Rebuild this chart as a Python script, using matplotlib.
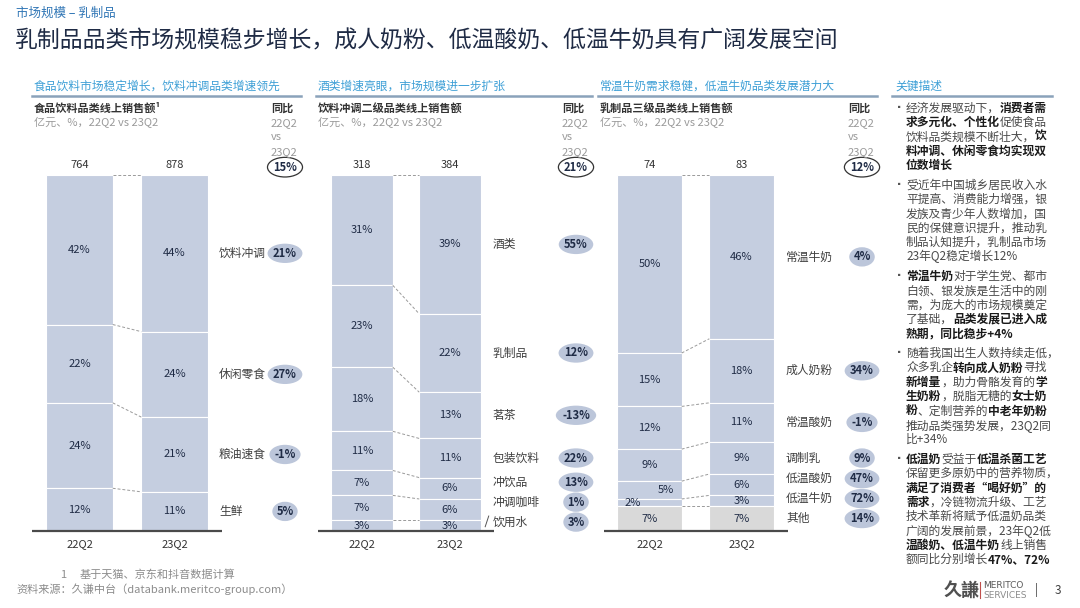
import matplotlib
matplotlib.use('Agg')
import matplotlib.pyplot as plt
from matplotlib.font_manager import FontProperties
import numpy as np

plt.rcParams['font.family'] = ['Noto Sans CJK SC', 'DejaVu Sans']

# ---- data ----
periods = ['22Q2', '23Q2']

food_cats = ['饮料冲调', '休闲零食', '粮油速食', '生鲜']
food_22 = [42, 22, 24, 12]
food_23 = [44, 24, 21, 11]
food_yoy = ['21%', '27%', '-1%', '5%']
food_total = [764, 878]
food_growth = '15%'

bev_cats = ['酒类', '乳制品', '茗茶', '包装饮料', '冲饮品', '冲调咖啡', '饮用水']
bev_22 = [31, 23, 18, 11, 7, 7, 3]
bev_23 = [39, 22, 13, 11, 6, 6, 3]
bev_yoy = ['55%', '12%', '-13%', '22%', '13%', '1%', '3%']
bev_total = [318, 384]
bev_growth = '21%'

dairy_cats = ['常温牛奶', '成人奶粉', '常温酸奶', '调制乳', '低温酸奶', '低温牛奶', '其他']
dairy_22 = [50, 15, 12, 9, 5, 2, 7]
dairy_23 = [46, 18, 11, 9, 6, 3, 7]
dairy_yoy = ['4%', '34%', '-1%', '9%', '47%', '72%', '14%']
dairy_total = [74, 83]
dairy_growth = '12%'

# ---- styling ----
BAR = '#c5cee0'
OTHER = '#d9d9d9'
PILL = '#bcc6da'
NAVY = '#1f2b45'
DARK = '#333333'
GREY = '#9a9a9a'
HEAD = '#3d9fd6'
RULE = '#8aa2ba'

W, H = 1080, 608
fig = plt.figure(figsize=(W / 100, H / 100), dpi=100)
renderer = fig.canvas.get_renderer()


def fx(x):
    return x / W


def fy(y):
    return 1 - y / H


def ftext(x, y, s, **kw):
    kw.setdefault('va', 'center')
    return fig.text(fx(x), fy(y), s, **kw)


def hline(x0, x1, y, **kw):
    fig.add_artist(plt.Line2D([fx(x0), fx(x1)], [fy(y), fy(y)], **kw))


def panel(c0, sp, cats, v22, v23, yoy, totals, growth, lab_px, pill_px,
          colors, offsets=None, leader=None):
    offsets = offsets or {}
    top, base = 175, 531
    ax = fig.add_axes([fx(c0 - sp / 2), fy(base), 2 * sp / W, (base - top) / H])
    ax.set_xlim(-0.5, 1.5)
    ax.set_ylim(0, 100)
    ax.axis('off')
    bw = 0.7
    lab_x = (lab_px - c0) / sp
    pill_x = (pill_px - c0) / sp
    tops_all = []
    for i, vals in enumerate([v22, v23]):
        vals = np.array(vals)
        tops = 100 - np.concatenate([[0], np.cumsum(vals)[:-1]])
        bottoms = tops - vals
        tops_all.append(tops)
        ax.bar(i, vals, bottom=bottoms, width=bw, color=colors,
               edgecolor='white', linewidth=0.8)
        for j, (v, b) in enumerate(zip(vals, bottoms)):
            dx = offsets.get((i, j), 0)
            ax.text(i + dx, b + v / 2, f'{v}%', ha='center', va='center',
                    fontsize=8, color=NAVY)
        ax.text(i, 102.8, str(totals[i]), ha='center', va='center',
                fontsize=8, color=DARK, clip_on=False)
        ax.text(i, -3.6, periods[i], ha='center', va='center',
                fontsize=8, color=DARK, clip_on=False)
    for a, b in zip(tops_all[0], tops_all[1]):
        ax.plot([bw / 2, 1 - bw / 2], [a, b], ls=(0, (3, 2)), color='#9a9a9a', lw=0.7)
    ax.plot([-0.5, 1.5], [0, 0], color='#4a4a4a', lw=1.6, clip_on=False,
            solid_capstyle='butt')

    # category labels at 23Q2 segment centres, pushed apart near the bottom
    v23 = np.array(v23)
    centres = 100 - np.cumsum(v23) + v23 / 2
    pos = centres.copy()
    prev = -1e9
    for j in range(len(pos) - 1, -1, -1):
        pos[j] = max(pos[j], prev + 5.6, 2.5)
        prev = pos[j]
    for c, p, g in zip(cats, pos, yoy):
        ax.text(lab_x, p, c, ha='left', va='center', fontsize=8.5,
                color='#404040', clip_on=False)
        ax.text(pill_x, p, g, ha='center', va='center', fontsize=8,
                fontweight='bold', color=NAVY, clip_on=False,
                bbox=dict(boxstyle='ellipse,pad=0.03', fc=PILL, ec='none'))
    ax.text(pill_x, 102.2, growth, ha='center', va='center', fontsize=8,
            fontweight='bold', color=NAVY, clip_on=False,
            bbox=dict(boxstyle='ellipse,pad=0.04', fc='white', ec='#333333', lw=0.9))
    if leader is not None:
        ax.plot(leader[0], leader[1], color='#555555', lw=0.7, clip_on=False)
    return ax


def panel_head(x0, x1, head, sub, col_x):
    ftext(x0 + 2, 86, head, fontsize=8.5, color=HEAD)
    hline(x0, x1, 95.5, color=RULE, lw=1.8)
    ftext(x0 + 2, 108, sub, fontsize=8, fontweight='bold', color=DARK)
    ftext(x0 + 2, 123, '亿元、%，22Q2 vs 23Q2', fontsize=8, color=GREY)
    ftext(col_x, 108, '同比', fontsize=8, fontweight='bold', color=DARK)
    for y, s in [(123, '22Q2'), (137.5, 'vs'), (152, '23Q2')]:
        ftext(col_x, y, s, fontsize=8, color=GREY)


# ---- header ----
ftext(16, 13, '市场规模 – 乳制品', fontsize=9, color='#2f75b5')
ftext(15, 41, '乳制品品类市场规模稳步增长，成人奶粉、低温酸奶、低温牛奶具有广阔发展空间',
      fontsize=16.5, color=NAVY)

# ---- panels ----
panel_head(32, 301, '食品饮料市场稳定增长，饮料冲调品类增速领先', '食品饮料品类线上销售额¹', 271)
panel(79.5, 95, food_cats, food_22, food_23, food_yoy, food_total, food_growth,
      219, 285, BAR)

panel_head(316, 592, '酒类增速亮眼，市场规模进一步扩张', '饮料冲调二级品类线上销售额', 562)
panel(362, 88, bev_cats, bev_22, bev_23, bev_yoy, bev_total, bev_growth,
      493, 576, BAR, leader=([1.40, 1.44], [1.2, 4.2]))

panel_head(598, 877, '常温牛奶需求稳健，低温牛奶品类发展潜力大', '乳制品三级品类线上销售额', 848)
panel(649.5, 92, dairy_cats, dairy_22, dairy_23, dairy_yoy, dairy_total, dairy_growth,
      786, 862, [BAR] * 6 + [OTHER], offsets={(0, 4): 0.18, (0, 5): -0.18})

# ---- key description column ----
ftext(895, 86, '关键描述', fontsize=8.5, color=HEAD)
hline(892, 1052, 95.5, color=RULE, lw=1.8)

bullets = [
    [[('经济发展驱动下，', 0), ('消费者需', 1)],
     [('求多元化、个性化', 1), ('促使食品', 0)],
     [('饮料品类规模不断壮大，', 0), ('饮', 1)],
     [('料冲调、休闲零食均实现双', 1)],
     [('位数增长', 1)]],
    [[('受近年中国城乡居民收入水', 0)],
     [('平提高、消费能力增强，银', 0)],
     [('发族及青少年人数增加，国', 0)],
     [('民的保健意识提升，推动乳', 0)],
     [('制品认知提升，乳制品市场', 0)],
     [('23年Q2稳定增长12%', 0)]],
    [[('常温牛奶', 1), ('对于学生党、都市', 0)],
     [('白领、银发族是生活中的刚', 0)],
     [('需，为庞大的市场规模奠定', 0)],
     [('了基础，', 0), ('品类发展已进入成', 1)],
     [('熟期，同比稳步+4%', 1)]],
    [[('随着我国出生人数持续走低，', 0)],
     [('众多乳企', 0), ('转向成人奶粉', 1), ('寻找', 0)],
     [('新增量', 1), ('，助力骨骼发育的', 0), ('学', 1)],
     [('生奶粉', 1), ('，脱脂无糖的', 0), ('女士奶', 1)],
     [('粉', 1), ('、定制营养的', 0), ('中老年奶粉', 1)],
     [('推动品类强势发展，23Q2同', 0)],
     [('比+34%', 0)]],
    [[('低温奶', 1), ('受益于', 0), ('低温杀菌工艺', 1)],
     [('保留更多原奶中的营养物质，', 0)],
     [('满足了消费者“喝好奶”的', 1)],
     [('需求', 1), ('，冷链物流升级、工艺', 0)],
     [('技术革新将赋予低温奶品类', 0)],
     [('广阔的发展前景，23年Q2低', 0)],
     [('温酸奶、低温牛奶', 1), ('线上销售', 0)],
     [('额同比分别增长', 0), ('47%、72%', 1)]],
]

BSIZE = 8.5
reg = FontProperties(family=['Noto Sans CJK SC', 'DejaVu Sans'], size=BSIZE)


def adv(s):
    # advance width of s including trailing full-width punctuation
    w1 = renderer.get_text_width_height_descent(s + '中', reg, ismath=False)[0]
    w0 = renderer.get_text_width_height_descent('中', reg, ismath=False)[0]
    return w1 - w0


y = 108
for para in bullets:
    ftext(895, y - 1, '▪', fontsize=6, color='#555555')
    for line in para:
        x0 = 906
        prefix = ''
        for s, b in line:
            ftext(x0 + adv(prefix), y, s, fontsize=BSIZE,
                  fontweight='bold' if b else 'normal',
                  color='#1a1a1a' if b else '#4a4a4a')
            prefix += s
        y += 14.35
    y += 5.3

# ---- footer ----
ftext(60, 575, '1', fontsize=8, color='#8c8c8c')
ftext(80, 575, '基于天猫、京东和抖音数据计算', fontsize=8, color='#8c8c8c')
ftext(16, 589, '资料来源：久谦中台（databank.meritco-group.com）', fontsize=8, color='#8c8c8c')

ftext(944, 590, '久謙', fontsize=13, fontweight='bold', color='#505050')
fig.add_artist(plt.Line2D([fx(980), fx(980)], [fy(582), fy(598)], color='#c0504d', lw=0.8))
ftext(983, 585, 'MERITCO', fontsize=6.5, color='#595959', family='DejaVu Sans')
ftext(983, 595, 'SERVICES', fontsize=6.5, color='#8c8c8c', family='DejaVu Sans')
ftext(1035, 590, '|', fontsize=9, color='#404040')
ftext(1055, 590, '3', fontsize=8.5, color='#404040')

fig.savefig('out.png', dpi=100)
